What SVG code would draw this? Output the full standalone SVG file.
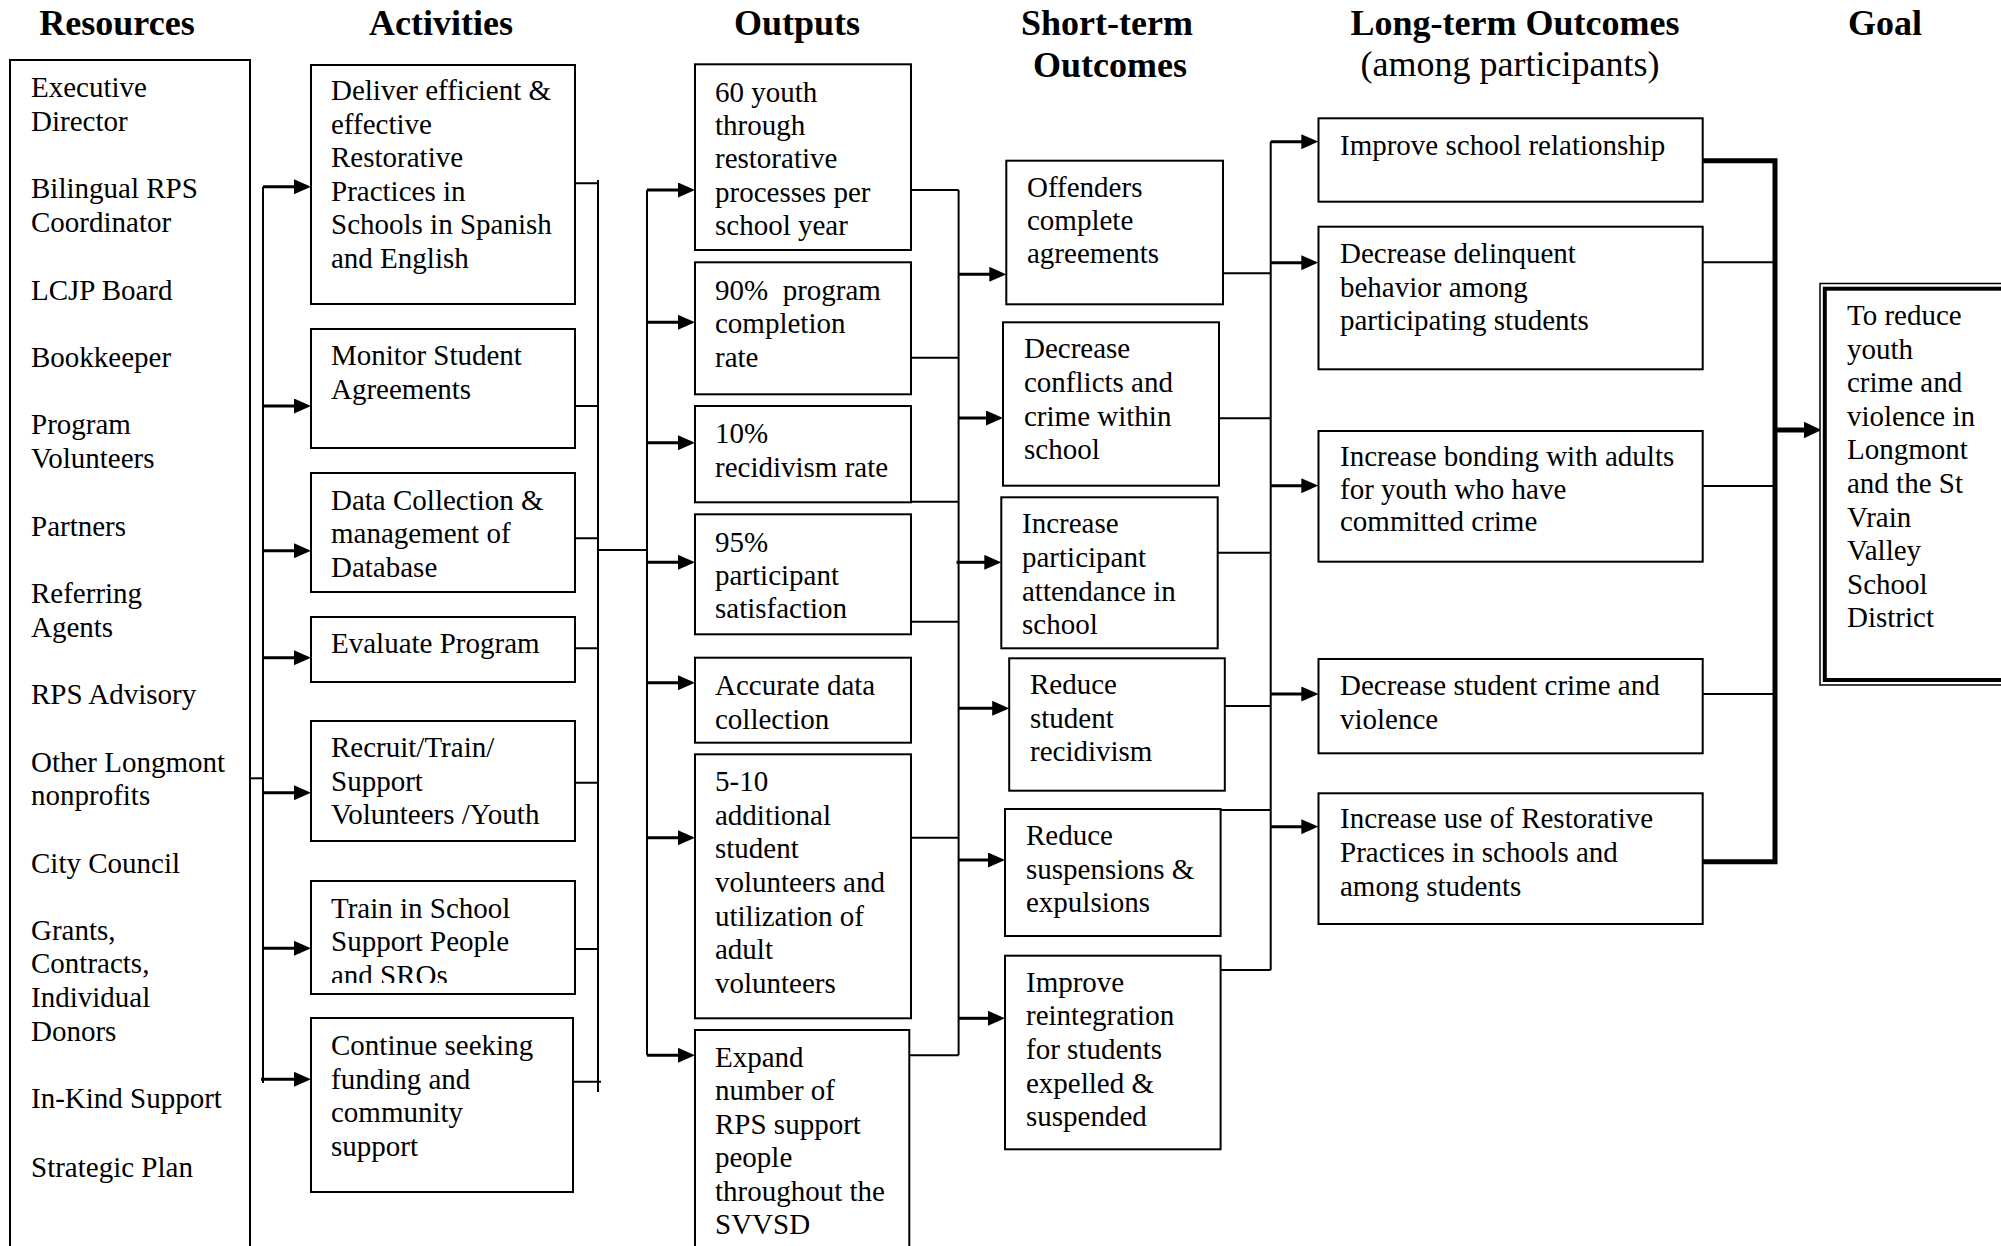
<svg xmlns="http://www.w3.org/2000/svg" width="2001" height="1246" viewBox="0 0 2001 1246">
<style>
.box{fill:#fff;stroke:#000;stroke-width:2}
.t{font-family:"Liberation Serif","Times New Roman",serif;font-size:29px;fill:#000}
.h{font-family:"Liberation Serif","Times New Roman",serif;font-size:36px;font-weight:bold;fill:#000;text-anchor:middle}
.hr{font-family:"Liberation Serif","Times New Roman",serif;font-size:36px;fill:#000;text-anchor:middle}
.ln{stroke:#000;stroke-width:2;fill:none}
.ar{stroke:#000;stroke-width:3;fill:none;marker-end:url(#ah)}
.thick{stroke:#000;stroke-width:5;fill:none}
</style>
<defs>
<marker id="ah" markerUnits="userSpaceOnUse" markerWidth="17" markerHeight="15" viewBox="0 0 17 15" refX="2" refY="7.5" orient="auto"><path d="M0,0 L17,7.5 L0,15 z" fill="#000"/></marker>
<marker id="ahb" markerUnits="userSpaceOnUse" markerWidth="18" markerHeight="17" viewBox="0 0 18 17" refX="2" refY="8.5" orient="auto"><path d="M0,0 L18,8.5 L0,17 z" fill="#000"/></marker>
<clipPath id="clipA6"><rect x="311" y="881" width="264" height="102"/></clipPath>
</defs>
<rect width="2001" height="1246" fill="#fff"/>

<g id="headers">
<text class="h" x="117" y="35">Resources</text>
<text class="h" x="441" y="35">Activities</text>
<text class="h" x="797" y="35">Outputs</text>
<text class="h" x="1107" y="35">Short-term</text>
<text class="h" x="1110" y="77">Outcomes</text>
<text class="h" x="1515" y="35">Long-term Outcomes</text>
<text class="hr" x="1510" y="76">(among participants)</text>
<text class="h" x="1885" y="35">Goal</text>
</g>

<g id="connectors">
<!-- resources to activities bus -->
<path class="ln" d="M250,778.3 H263"/>
<path class="ln" d="M263,186.7 V1083"/>
<path class="ar" d="M263,186.7 H296"/>
<path class="ar" d="M263,406 H296"/>
<path class="ar" d="M263,550.7 H296"/>
<path class="ar" d="M263,657.7 H296"/>
<path class="ar" d="M263,792.7 H296"/>
<path class="ar" d="M263,948.3 H296"/>
<path class="ar" d="M261,1079.3 H296"/>
<!-- activities to outputs -->
<path class="ln" d="M575,183.3 H598 M575,406 H598 M575,538.3 H598 M575,648.3 H598 M575,782.7 H598 M575,949 H598 M573,1081.7 H601"/>
<path class="ln" d="M598,180 V1092"/>
<path class="ln" d="M598,550 H647"/>
<path class="ln" d="M647,190 V1055.3"/>
<path class="ar" d="M647,190 H680"/>
<path class="ar" d="M647,322.3 H680"/>
<path class="ar" d="M647,442.7 H680"/>
<path class="ar" d="M647,562.3 H680"/>
<path class="ar" d="M647,682.7 H680"/>
<path class="ar" d="M647,837.7 H680"/>
<path class="ar" d="M647,1055.3 H680"/>
<!-- outputs to short-term -->
<path class="ln" d="M911,190 H958.6 M911,357.7 H958.6 M911,501.7 H958.6 M911,621.7 H958.6 M911,837.7 H958.6 M909.3,1055.3 H958.6"/>
<path class="ln" d="M958.6,190 V1055.3"/>
<path class="ar" d="M958.6,274.3 H991.3"/>
<path class="ar" d="M958.6,418 H988"/>
<path class="ar" d="M956.5,562.3 H986.3"/>
<path class="ar" d="M958.6,708.3 H994.2"/>
<path class="ar" d="M958.6,860 H990"/>
<path class="ar" d="M958.6,1018.3 H990"/>
<!-- short-term to long-term -->
<path class="ln" d="M1223,273.3 H1270.7 M1219,418.3 H1270.7 M1217.7,552.7 H1270.7 M1222.7,706 H1270.7 M1220.6,810 H1270.7 M1220.6,970 H1270.7"/>
<path class="ln" d="M1270.7,141.7 V970"/>
<path class="ar" d="M1270.7,141.7 H1303.3"/>
<path class="ar" d="M1270.7,262.7 H1303.3"/>
<path class="ar" d="M1270.7,485.7 H1303.3"/>
<path class="ar" d="M1270.7,694 H1303.3"/>
<path class="ar" d="M1270.7,826.7 H1303.3"/>
<!-- long-term to goal -->
<path class="ln" d="M1702.7,262.3 H1775 M1702.7,486 H1775 M1702.7,694 H1775"/>
<path class="thick" d="M1702.7,160.7 H1775 V861.7 H1702.7"/>
<path class="thick" d="M1775,430 H1805.5" style="marker-end:url(#ahb)"/>
</g>

<g id="resources">
<path class="box" d="M10,1260 V60 H250 V1260" fill="none"/>
<text class="t">
<tspan x="31" y="97">Executive</tspan><tspan x="31" y="131">Director</tspan>
<tspan x="31" y="198">Bilingual RPS</tspan><tspan x="31" y="232">Coordinator</tspan>
<tspan x="31" y="300">LCJP Board</tspan>
<tspan x="31" y="367">Bookkeeper</tspan>
<tspan x="31" y="434">Program</tspan><tspan x="31" y="468">Volunteers</tspan>
<tspan x="31" y="536">Partners</tspan>
<tspan x="31" y="603">Referring</tspan><tspan x="31" y="637">Agents</tspan>
<tspan x="31" y="704">RPS Advisory</tspan>
<tspan x="31" y="772">Other Longmont</tspan><tspan x="31" y="805">nonprofits</tspan>
<tspan x="31" y="873">City Council</tspan>
<tspan x="31" y="940">Grants,</tspan><tspan x="31" y="973">Contracts,</tspan><tspan x="31" y="1007">Individual</tspan><tspan x="31" y="1041">Donors</tspan>
<tspan x="31" y="1108">In-Kind Support</tspan>
<tspan x="31" y="1177">Strategic Plan</tspan>
</text>
</g>

<g id="act1"><rect class="box" x="311" y="65" width="264" height="239"/>
<text class="t"><tspan x="331" y="100">Deliver efficient &amp;</tspan><tspan x="331" y="133.6">effective</tspan><tspan x="331" y="167.2">Restorative</tspan><tspan x="331" y="200.8">Practices in</tspan><tspan x="331" y="234.4">Schools in Spanish</tspan><tspan x="331" y="268">and English</tspan></text></g>
<g id="act2"><rect class="box" x="311" y="329" width="264" height="119"/>
<text class="t"><tspan x="331" y="365">Monitor Student</tspan><tspan x="331" y="398.5">Agreements</tspan></text></g>
<g id="act3"><rect class="box" x="311" y="473" width="264" height="119"/>
<text class="t"><tspan x="331" y="509.5">Data Collection &amp;</tspan><tspan x="331" y="543">management of</tspan><tspan x="331" y="576.5">Database</tspan></text></g>
<g id="act4"><rect class="box" x="311" y="617" width="264" height="65"/>
<text class="t"><tspan x="331" y="653">Evaluate Program</tspan></text></g>
<g id="act5"><rect class="box" x="311" y="721" width="264" height="120"/>
<text class="t"><tspan x="331" y="757">Recruit/Train/</tspan><tspan x="331" y="790.5">Support</tspan><tspan x="331" y="824">Volunteers /Youth</tspan></text></g>
<g id="act6"><rect class="box" x="311" y="881" width="264" height="113"/>
<text class="t" clip-path="url(#clipA6)"><tspan x="331" y="917.5">Train in School</tspan><tspan x="331" y="951">Support People</tspan><tspan x="331" y="984.5">and SROs</tspan></text></g>
<g id="act7"><rect class="box" x="311" y="1018" width="262" height="174"/>
<text class="t"><tspan x="331" y="1055">Continue seeking</tspan><tspan x="331" y="1088.5">funding and</tspan><tspan x="331" y="1122">community</tspan><tspan x="331" y="1155.5">support</tspan></text></g>

<g id="out1"><rect class="box" x="695" y="64.3" width="216" height="185.7"/>
<text class="t"><tspan x="715" y="101.7">60 youth</tspan><tspan x="715" y="135">through</tspan><tspan x="715" y="168.3">restorative</tspan><tspan x="715" y="201.7">processes per</tspan><tspan x="715" y="235">school year</tspan></text></g>
<g id="out2"><rect class="box" x="695" y="262.3" width="216" height="132"/>
<text class="t"><tspan x="715" y="300" style="white-space:pre">90%  program</tspan><tspan x="715" y="333.3">completion</tspan><tspan x="715" y="366.7">rate</tspan></text></g>
<g id="out3"><rect class="box" x="695" y="406" width="216" height="96.3"/>
<text class="t"><tspan x="715" y="443.3">10%</tspan><tspan x="715" y="477">recidivism rate</tspan></text></g>
<g id="out4"><rect class="box" x="695" y="514.3" width="216" height="120"/>
<text class="t"><tspan x="715" y="551.7">95%</tspan><tspan x="715" y="585">participant</tspan><tspan x="715" y="618.3">satisfaction</tspan></text></g>
<g id="out5"><rect class="box" x="695" y="657.7" width="216" height="85"/>
<text class="t"><tspan x="715" y="695">Accurate data</tspan><tspan x="715" y="728.5">collection</tspan></text></g>
<g id="out6"><rect class="box" x="695" y="754.3" width="216" height="264"/>
<text class="t"><tspan x="715" y="791">5-10</tspan><tspan x="715" y="825">additional</tspan><tspan x="715" y="858.3">student</tspan><tspan x="715" y="892">volunteers and</tspan><tspan x="715" y="925.5">utilization of</tspan><tspan x="715" y="959">adult</tspan><tspan x="715" y="992.5">volunteers</tspan></text></g>
<g id="out7"><rect class="box" x="695" y="1030" width="214.3" height="240"/>
<text class="t"><tspan x="715" y="1066.7">Expand</tspan><tspan x="715" y="1100">number of</tspan><tspan x="715" y="1133.6">RPS support</tspan><tspan x="715" y="1167.2">people</tspan><tspan x="715" y="1200.8">throughout the</tspan><tspan x="715" y="1234.4">SVVSD</tspan></text></g>

<g id="st1"><rect class="box" x="1006.3" y="160.7" width="216.7" height="143.6"/>
<text class="t"><tspan x="1027" y="196.7">Offenders</tspan><tspan x="1027" y="230">complete</tspan><tspan x="1027" y="263.3">agreements</tspan></text></g>
<g id="st2"><rect class="box" x="1003" y="322.3" width="216" height="163.4"/>
<text class="t"><tspan x="1024" y="358.3">Decrease</tspan><tspan x="1024" y="392">conflicts and</tspan><tspan x="1024" y="425.6">crime within</tspan><tspan x="1024" y="459.2">school</tspan></text></g>
<g id="st3"><rect class="box" x="1001.3" y="497.3" width="216.4" height="151"/>
<text class="t"><tspan x="1022" y="533.3">Increase</tspan><tspan x="1022" y="567">participant</tspan><tspan x="1022" y="600.5">attendance in</tspan><tspan x="1022" y="634">school</tspan></text></g>
<g id="st4"><rect class="box" x="1009.2" y="658.3" width="215.6" height="132.4"/>
<text class="t"><tspan x="1030" y="694">Reduce</tspan><tspan x="1030" y="727.6">student</tspan><tspan x="1030" y="761.2">recidivism</tspan></text></g>
<g id="st5"><rect class="box" x="1005" y="809" width="215.6" height="127"/>
<text class="t"><tspan x="1026" y="845">Reduce</tspan><tspan x="1026" y="878.6">suspensions &amp;</tspan><tspan x="1026" y="912.2">expulsions</tspan></text></g>
<g id="st6"><rect class="box" x="1005" y="955.7" width="215.6" height="193.6"/>
<text class="t"><tspan x="1026" y="991.7">Improve</tspan><tspan x="1026" y="1025.3">reintegration</tspan><tspan x="1026" y="1058.9">for students</tspan><tspan x="1026" y="1092.5">expelled &amp;</tspan><tspan x="1026" y="1126.1">suspended</tspan></text></g>

<g id="lt1"><rect class="box" x="1318.5" y="118.3" width="384.2" height="83.4"/>
<text class="t"><tspan x="1340" y="155">Improve school relationship</tspan></text></g>
<g id="lt2"><rect class="box" x="1318.5" y="226.7" width="384.2" height="142.6"/>
<text class="t"><tspan x="1340" y="263.3">Decrease delinquent</tspan><tspan x="1340" y="296.7">behavior among</tspan><tspan x="1340" y="330">participating students</tspan></text></g>
<g id="lt3"><rect class="box" x="1318.5" y="431" width="384.2" height="130.7"/>
<text class="t"><tspan x="1340" y="466">Increase bonding with adults</tspan><tspan x="1340" y="498.5">for youth who have</tspan><tspan x="1340" y="531">committed crime</tspan></text></g>
<g id="lt4"><rect class="box" x="1318.5" y="659" width="384.2" height="94.3"/>
<text class="t"><tspan x="1340" y="695">Decrease student crime and</tspan><tspan x="1340" y="728.5">violence</tspan></text></g>
<g id="lt5"><rect class="box" x="1318.5" y="793.3" width="384.2" height="130.7"/>
<text class="t"><tspan x="1340" y="828.3">Increase use of Restorative</tspan><tspan x="1340" y="862">Practices in schools and</tspan><tspan x="1340" y="895.5">among students</tspan></text></g>

<g id="goal">
<rect x="1820" y="283.5" width="200" height="401.5" fill="#fff" stroke="#000" stroke-width="1.5"/>
<rect x="1824.8" y="288.7" width="200" height="391.3" fill="none" stroke="#000" stroke-width="4"/>
<text class="t"><tspan x="1847" y="325">To reduce</tspan><tspan x="1847" y="358.6">youth</tspan><tspan x="1847" y="392.2">crime and</tspan><tspan x="1847" y="425.8">violence in</tspan><tspan x="1847" y="459.4">Longmont</tspan><tspan x="1847" y="493">and the St</tspan><tspan x="1847" y="526.6">Vrain</tspan><tspan x="1847" y="560.2">Valley</tspan><tspan x="1847" y="593.8">School</tspan><tspan x="1847" y="627.4">District</tspan></text>
</g>
</svg>
